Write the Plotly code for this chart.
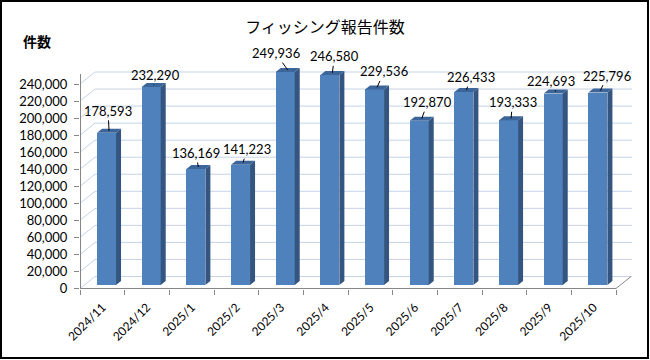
import plotly.graph_objects as go

# ---------------- data ----------------
categories = ["2024/11", "2024/12", "2025/1", "2025/2", "2025/3", "2025/4",
              "2025/5", "2025/6", "2025/7", "2025/8", "2025/9", "2025/10"]
reports = [178593, 232290, 136169, 141223, 249936, 246580,
           229536, 192870, 226433, 193333, 224693, 225796]
y_ticks = list(range(0, 240001, 20000))
title_text = "フィッシング報告件数"
y_title = "件数"

# ---------------- layout constants (pixels) ----------------
W, H = 650, 360
L, R, T, B = 80, 17, 60, 71
PW, PH = W - L - R, H - T - B
CAT_PX = 44.67                       # pixels per category
ZERO_PX = 288.5                      # pixel row of value 0
UNIT_PER_PX = 240000 / 204.5         # value units per pixel
x_min = -0.5
x_max = x_min + PW / CAT_PX
y_min = -(H - B - ZERO_PX) * UNIT_PER_PX
y_max = (ZERO_PX - T) * UNIT_PER_PX

DEPTH_DX = 15 / CAT_PX               # back wall offset
DEPTH_DY = 12 * UNIT_PER_PX
BAR_SHIFT = 4.2 / CAT_PX             # bar front offset from category centre
BAR_W = 19 / CAT_PX
BAR_BASE = 3.5 * UNIT_PER_PX
SIDE_DX = 5 / CAT_PX
SIDE_DY = 4 * UNIT_PER_PX

FRONT = "#4F81BD"
SIDE = "#34557F"
TOP = "#3C659A"
GRID = "#C5D3E8"
AXIS = "#868686"
FONT = "Lato, 'Open Sans', sans-serif"
JFONT = "'Noto Sans CJK JP', sans-serif"


def px_x(px):
    return (px - L) / PW


def px_y(py):
    return (H - B - py) / PH


xs = [i + BAR_SHIFT for i in range(len(categories))]

fig = go.Figure()

# front faces
fig.add_trace(go.Bar(x=xs, y=reports, base=BAR_BASE, width=BAR_W,
                     marker=dict(color=FRONT, line=dict(width=0)),
                     hoverinfo="skip", showlegend=False))

# side faces and top faces derived from values
side_x, side_y, top_x, top_y = [], [], [], []
for x, v in zip(xs, reports):
    xl, xr = x - BAR_W / 2, x + BAR_W / 2
    b, t = BAR_BASE, BAR_BASE + v
    side_x += [xr, xr + SIDE_DX, xr + SIDE_DX, xr, xr, None]
    side_y += [b, b + SIDE_DY, t + SIDE_DY, t, b, None]
    top_x += [xl, xr, xr + SIDE_DX, xl + SIDE_DX, xl, None]
    top_y += [t, t, t + SIDE_DY, t + SIDE_DY, t, None]
fig.add_trace(go.Scatter(x=side_x, y=side_y, mode="lines", fill="toself",
                         fillcolor=SIDE, line=dict(width=0, color=SIDE),
                         hoverinfo="skip", showlegend=False))
fig.add_trace(go.Scatter(x=top_x, y=top_y, mode="lines", fill="toself",
                         fillcolor=TOP, line=dict(width=0, color=TOP),
                         hoverinfo="skip", showlegend=False))

shapes = []
# back wall gridlines + left wall diagonals
for t in y_ticks:
    shapes.append(dict(type="line", xref="x", yref="y", layer="below",
                       x0=x_min + DEPTH_DX, x1=x_max - 0.02,
                       y0=t + DEPTH_DY, y1=t + DEPTH_DY,
                       line=dict(color=GRID, width=1)))
    shapes.append(dict(type="line", xref="x", yref="y", layer="below",
                       x0=x_min, x1=x_min + DEPTH_DX,
                       y0=t, y1=t + DEPTH_DY,
                       line=dict(color=GRID, width=1)))
# floor front edge and right edge
n = len(categories)
shapes.append(dict(type="line", xref="x", yref="y", layer="below",
                   x0=x_min, x1=n - 0.5, y0=0, y1=0,
                   line=dict(color=AXIS, width=1)))
shapes.append(dict(type="line", xref="x", yref="y", layer="below",
                   x0=n - 0.5, x1=n - 0.5 + DEPTH_DX, y0=0, y1=DEPTH_DY,
                   line=dict(color=AXIS, width=1)))
# vertical axis line
shapes.append(dict(type="line", xref="paper", yref="paper",
                   x0=px_x(80.5), x1=px_x(80.5), y0=px_y(ZERO_PX), y1=px_y(74),
                   line=dict(color=AXIS, width=1)))
# chart border
shapes.append(dict(type="rect", xref="paper", yref="paper",
                   x0=px_x(1), x1=px_x(648), y0=px_y(358), y1=px_y(1),
                   line=dict(color="black", width=2)))

# data labels with leader lines (offsets in pixels)
label_dx = [-1, 2, -2.5, 4, -12, 2, 7, 6, 4.5, 1.5, -5, 7]
label_dy = [-20, -10, -14, -13.5, -17, -16.5, -16, -16.5, -13, -16, -11, -15]
annotations = []
for x, v, dx, dy in zip(xs, reports, label_dx, label_dy):
    annotations.append(dict(
        x=x + SIDE_DX / 2, y=BAR_BASE + v + SIDE_DY / 2, xref="x", yref="y",
        text=f"{v:,}", showarrow=True, arrowhead=0, arrowwidth=1,
        arrowcolor="black", ax=dx, ay=dy, standoff=0,
        font=dict(family=FONT, size=13, color="black")))
annotations.append(dict(x=px_x(37), y=px_y(41), xref="paper", yref="paper",
                        xanchor="center", yanchor="middle",
                        text=f"<b>{y_title}</b>", showarrow=False,
                        font=dict(family=JFONT, size=14, color="black")))

fig.update_layout(
    width=W, height=H,
    margin=dict(l=L, r=R, t=T, b=B),
    paper_bgcolor="white", plot_bgcolor="white",
    title=dict(text=title_text, x=0.5, xref="container", y=1 - 27 / H,
               yref="container", xanchor="center", yanchor="middle",
               font=dict(family=JFONT, size=16, color="black")),
    bargap=0,
    xaxis=dict(range=[x_min, x_max], tickmode="array",
               tickvals=list(range(n)), ticktext=categories, tickangle=-45,
               ticks="", showgrid=False, zeroline=False, showline=False,
               tickfont=dict(family=FONT, size=12, color="black"),
               ticklabelstandoff=8,
               minor=dict(tickmode="array", tickvals=[i - 0.5 for i in range(n + 1)],
                          ticks="outside", ticklen=5, tickcolor=AXIS, showgrid=False),
               fixedrange=True),
    yaxis=dict(range=[y_min, y_max], tickmode="array", tickvals=y_ticks,
               ticktext=[f"{t:,}" for t in y_ticks],
               ticks="outside", ticklen=5, tickcolor=AXIS,
               showgrid=False, zeroline=False, showline=False,
               tickfont=dict(family=FONT, size=13, color="black"),
               ticklabelstandoff=4, fixedrange=True),
    shapes=shapes, annotations=annotations,
)

fig.write_html("out.html", config={"displayModeBar": False},
               post_script="document.body.style.margin='0';"
                           "document.body.style.overflow='hidden';")
